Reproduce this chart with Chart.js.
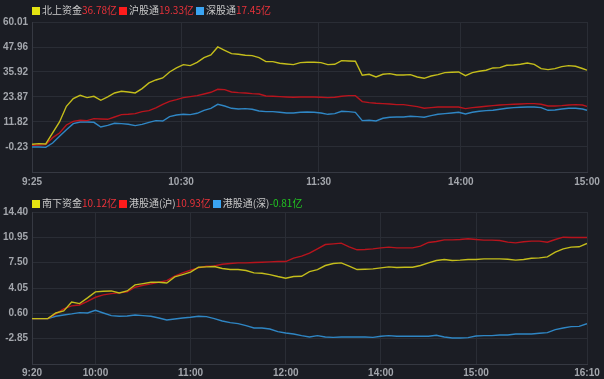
<!DOCTYPE html>
<html><head><meta charset="utf-8">
<script src="https://cdn.jsdelivr.net/npm/chart.js@4/dist/chart.umd.min.js"></script>
<style>
html,body{margin:0;padding:0;background:#1b1d24;width:604px;height:379px;overflow:hidden;font-family:"Noto Sans CJK SC","Noto Sans",sans-serif;}
.panel{position:absolute;left:0;width:604px;}
#p1{top:0;height:190px}
#p2{top:190px;height:189px}
canvas{position:absolute;left:0;top:0}
.legend{position:absolute;left:32px;font-size:10px;line-height:12px;height:12px;color:#c9c9c9;white-space:nowrap;z-index:2}
.sq{display:inline-block;width:8px;height:8px;margin-right:2px;margin-left:2px;vertical-align:-1px}
.sq.first{margin-left:0}
.v{color:#e8323a}
.g{color:#22c522}
</style>
</head><body>
<div class="legend" id="lg1" style="top:4px"></div>
<div class="legend" id="lg2" style="top:197px"></div>
<div class="panel" id="p1"><canvas id="c1" width="604" height="190"></canvas></div>
<div class="panel" id="p2"><canvas id="c2" width="604" height="189"></canvas></div>
<script>
// ---------- Northbound (top panel) ----------
const northTime = [0,3,6,9,12,15,18,21,24,27,30,33,36,39,42,45,48,51,54,57,60,63,66,69,72,75,78,81,84,87,90,93,96,99,102,105,108,111,114,117,120,123,126,129,132,135,138,141,144,147,150,153,156,159,162,165,168,171,174,177,180,183,186,189,192,195,198,201,204,207,210,213,216,219,222,225,228,231,234,237,240,242];
const northTotal = [1.06,1.38,1.22,6.53,11.83,19.38,23.08,24.68,23.56,24.2,22.27,23.88,25.81,26.61,26.29,25.81,27.9,30.63,32.08,33.04,35.93,37.86,39.47,38.99,40.59,42.84,44.13,47.99,46.38,44.77,44.45,43.97,43.81,42.84,40.92,40.92,40.11,39.79,39.47,40.43,40.59,40.59,40.43,39.47,39.63,41.4,41.24,41.08,34.33,34.81,33.52,34.81,35.13,34.49,34.49,34.65,33.52,32.88,34.0,34.65,35.61,35.77,35.93,34.17,35.61,36.25,36.74,37.86,38.02,39.15,39.31,39.63,40.27,39.63,37.54,37.06,37.54,38.5,38.99,38.7,37.6,36.78];
const northSH = [0.58,0.74,0.9,4.28,6.53,10.38,12.15,12.63,12.47,13.44,13.27,13.11,14.24,15.36,15.52,15.85,16.81,17.29,18.58,20.35,21.79,22.6,23.56,24.04,24.52,25.33,26.13,27.58,27.42,26.29,25.97,25.81,25.49,25.33,24.36,24.2,24.04,23.88,23.72,23.88,23.88,23.88,23.72,23.56,23.72,24.2,24.52,24.52,21.63,21.15,20.83,20.67,20.51,20.18,20.18,19.7,19.22,18.42,18.74,19.06,19.06,19.06,19.06,18.26,18.74,19.06,19.38,19.7,20.02,20.18,20.35,20.51,20.67,20.67,20.35,19.54,19.54,19.7,20.02,20.18,20.02,19.33];
const northSZ = [-0.23,-0.23,-0.39,1.7,4.92,8.13,11.02,11.83,11.83,11.67,9.42,10.22,11.19,11.02,10.7,10.06,10.7,11.67,12.47,12.31,14.4,15.2,15.52,15.36,16.01,17.45,18.42,20.35,19.54,18.42,18.1,18.26,17.94,17.13,16.81,16.81,16.49,16.17,16.17,16.49,16.65,16.49,16.17,15.52,15.85,16.97,16.81,16.49,12.47,12.63,12.31,13.6,14.08,14.24,14.24,14.56,14.4,14.08,14.88,15.52,15.85,16.17,16.49,15.69,16.49,16.97,17.29,17.45,17.94,18.42,18.74,18.9,19.06,19.06,18.74,17.45,17.61,18.1,18.42,18.42,18.1,17.45];
const northYTicks = [60.01,47.96,35.92,23.87,11.82,-0.23];
const northYMin = -12.28, northYMax = 60.01;
const northXTicks = [0,65,125,187,242];
const northXLabels = ['9:25','10:30','11:30','14:00','15:00'];
const northXMax = 242;
const northNames = ['北上资金','沪股通','深股通'];
const northLegendValues = ['36.78亿','19.33亿','17.45亿'];

// ---------- Southbound (bottom panel) ----------
const southTime = [0,5,10,15,20,25,30,35,40,45,50,55,60,65,70,75,80,85,90,95,100,105,110,115,120,125,130,135,140,145,150,155,160,165,170,175,180,185,190,195,200,205,210,215,220,225,230,235,240,245,250,255,260,265,270,275,280,285,290,295,300,305,310,315,320,325,330,335,340,345,350];
const southTotal = [-0.12,-0.12,-0.12,0.65,0.93,2.15,1.93,2.7,3.52,3.61,3.65,3.38,3.65,4.47,4.65,4.84,4.84,4.74,5.56,5.88,6.2,6.88,6.93,6.97,6.7,6.56,6.56,6.43,6.11,6.06,5.88,5.61,5.38,5.61,5.65,6.29,6.56,7.11,7.38,7.47,7.02,6.56,6.61,6.65,6.79,6.93,6.84,6.88,6.88,7.11,7.47,7.79,7.93,7.79,7.84,7.93,7.93,8.02,8.02,8.02,7.97,7.84,7.93,8.11,8.15,8.29,8.93,9.38,9.61,9.66,10.12];
const southSH = [-0.12,-0.12,-0.12,0.52,1.2,1.61,1.74,2.24,2.79,3.11,3.29,3.38,3.52,4.15,4.43,4.61,4.84,5.06,5.65,6.11,6.47,6.79,7.02,7.06,7.29,7.38,7.47,7.47,7.52,7.56,7.61,7.65,7.65,8.11,8.38,8.79,9.38,9.97,10.06,10.16,9.66,9.25,9.29,9.38,9.52,9.61,9.52,9.52,9.52,9.75,10.25,10.38,10.61,10.61,10.66,10.75,10.66,10.57,10.57,10.52,10.29,10.2,10.34,10.43,10.43,10.29,10.66,10.97,10.93,10.93,10.93];
const southSZ = [-0.12,-0.12,-0.12,0.2,0.38,0.52,0.7,0.65,1.02,0.65,0.29,0.2,0.24,0.38,0.29,0.2,-0.03,-0.3,-0.17,-0.03,0.06,0.2,0.15,-0.12,-0.44,-0.67,-0.8,-1.08,-1.39,-1.39,-1.53,-1.89,-2.08,-2.21,-2.44,-2.62,-2.44,-2.62,-2.67,-2.62,-2.62,-2.62,-2.62,-2.67,-2.53,-2.44,-2.53,-2.53,-2.53,-2.53,-2.53,-2.39,-2.62,-2.76,-2.76,-2.71,-2.49,-2.44,-2.44,-2.35,-2.35,-2.21,-2.21,-2.21,-2.12,-2.03,-1.62,-1.39,-1.21,-1.17,-0.81];
const southYTicks = [14.40,10.95,7.50,4.05,0.60,-2.85];
const southYMin = -6.30, southYMax = 14.40;
const southXTicks = [0,40,100,160,220,280,350];
const southXLabels = ['9:20','10:00','11:00','12:00','14:00','15:00','16:10'];
const southXMax = 350;
const southNames = ['南下资金','港股通(沪)','港股通(深)'];
const southLegendValues = ['10.12亿','10.93亿','-0.81亿'];

// ---------- styles ----------
const lineColors = ['#c4bd1b','#b8141d','#2f86c4'];
const squareColors = ['#e3e312','#ff1c1c','#3aa4f2'];
const gridColor = '#2a2d35';
const borderColor = '#363942';
const tickColor = '#a3a6ac';
const tickFont = {family:'"Liberation Sans", Arial, sans-serif', size:10, weight:'bold'};

function buildLegend(el, names, values){
  el.innerHTML = names.map((n,i)=>{
    const neg = values[i].trim().startsWith('-');
    return '<span class="sq'+(i===0?' first':'')+'" style="background:'+squareColors[i]+'"></span>'+n+'<span class="'+(neg?'g':'v')+'">'+values[i]+'</span>';
  }).join('');
}
buildLegend(document.getElementById('lg1'), northNames, northLegendValues);
buildLegend(document.getElementById('lg2'), southNames, southLegendValues);

function pts(t, v){ return t.map((x,i)=>({x:x, y:v[i]})); }

function makeChart(canvas, time, series, yTicks, yMin, yMax, xTicks, xLabels, xMax, pad, xAxisH, xPad){
  return new Chart(canvas, {
    type:'line',
    data:{datasets: series.map((s,i)=>({
      data: pts(time, s), borderColor: lineColors[i], borderWidth:1.4,
      pointRadius:0, tension:0, fill:false
    }))},
    options:{
      responsive:false, animation:false, devicePixelRatio:1,
      layout:{padding:pad},
      plugins:{legend:{display:false}, tooltip:{enabled:false}},
      scales:{
        x:{type:'linear', min:0, max:xMax,
          afterBuildTicks: s=>{ s.ticks = xTicks.map(v=>({value:v})); },
          afterFit: s=>{ s.height = xAxisH; },
          ticks:{autoSkip:false, maxRotation:0, color:tickColor, font:tickFont, padding:xPad,
            callback:(v,i)=>xLabels[i]},
          grid:{color:gridColor, drawTicks:false, lineWidth:1},
          border:{color:borderColor}
        },
        y:{type:'linear', min:yMin, max:yMax,
          afterBuildTicks: s=>{ s.ticks = yTicks.map(v=>({value:v})); },
          afterFit: s=>{ s.width = 32; },
          ticks:{color:tickColor, font:tickFont, padding:4, callback:v=>Number(v).toFixed(2)},
          grid:{color:gridColor, drawTicks:false, lineWidth:1},
          border:{color:borderColor}
        }
      }
    }
  });
}

makeChart(document.getElementById('c1'), northTime, [northTotal,northSH,northSZ],
  northYTicks, northYMin, northYMax, northXTicks, northXLabels, northXMax,
  {top:22,right:17,left:0,bottom:0}, 18, 4);
makeChart(document.getElementById('c2'), southTime, [southTotal,southSH,southSZ],
  southYTicks, southYMin, southYMax, southXTicks, southXLabels, southXMax,
  {top:22,right:17,left:0,bottom:0}, 15, 3);
</script>
</body></html>
